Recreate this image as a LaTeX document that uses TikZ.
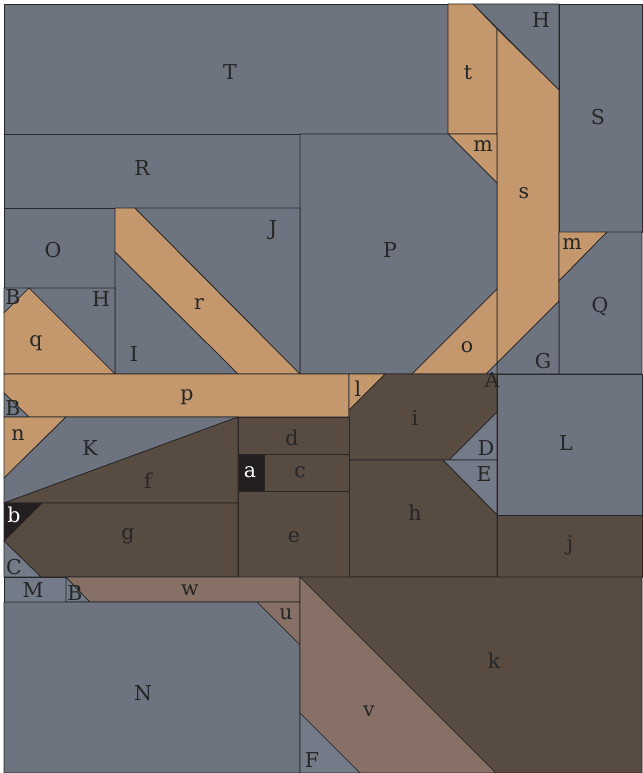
\documentclass[tikz,border=0pt]{standalone}
\usepackage{fontspec}
\setmainfont{DejaVu Serif}
\begin{document}
\begin{tikzpicture}[x=1pt,y=-1pt,
  piece/.style={draw=black!85,line width=0.7pt,line join=round},
  slate/.style={piece,fill=slateC},
  slatel/.style={piece,fill=slateL},
  tan/.style={piece,fill=tanC},
  dark/.style={piece,fill=darkC},
  mauve/.style={piece,fill=mauveC},
  blk/.style={piece,fill=blkC},
  lab/.style={font=\fontsize{20.5}{20.5}\selectfont,text=black!85,inner sep=0pt},
  wlab/.style={font=\fontsize{20.5}{20.5}\selectfont,text=white,inner sep=0pt}]
\definecolor{slateC}{HTML}{6D737F}
\definecolor{slateL}{HTML}{737A88}
\definecolor{tanC}{HTML}{C4986C}
\definecolor{darkC}{HTML}{584B42}
\definecolor{mauveC}{HTML}{877166}
\definecolor{blkC}{HTML}{231F20}
\useasboundingbox (0,0) rectangle (642,773);
\fill[white] (0,0) rectangle (642,773);
% top row
\path[slate] (4,4) rectangle (448,134);
\path[tan] (448,4) -- (473,4) -- (497,29) -- (497,134) -- (448,134) -- cycle;
\path[slate] (473,4) -- (559,4) -- (559,90) -- cycle;
\path[slate] (559,4) rectangle (642,232);
\path[tan] (497,29) -- (559,90) -- (559,301) -- (497,363) -- cycle;
\path[tan] (448,134) -- (497,134) -- (497,183) -- cycle;
\path[tan] (559,232) -- (607,232) -- (559,281) -- cycle;
\path[slate] (607,232) -- (642,232) -- (642,374) -- (559,374) -- (559,281) -- cycle;
\path[slate] (4,134) rectangle (300,208);
\path[slate] (300,134) -- (448,134) -- (497,183) -- (497,289) -- (412,374) -- (300,374) -- cycle;
\path[tan] (497,289) -- (497,363) -- (486,374) -- (412,374) -- cycle;
\path[slate] (559,301) -- (559,374) -- (497,374) -- (497,363) -- cycle;
\path[slatel] (497,363) -- (497,374) -- (486,374) -- cycle;
% left middle
\path[slate] (4,208) rectangle (115,288);
\path[tan] (115,208) -- (135,208) -- (300,374) -- (238,374) -- (115,252) -- cycle;
\path[slate] (135,208) -- (300,208) -- (300,374) -- cycle;
\path[slate] (115,252) -- (238,374) -- (115,374) -- cycle;
\path[slatel] (4,288) -- (29,288) -- (4,313) -- cycle;
\path[tan] (29,288) -- (115,374) -- (4,374) -- (4,313) -- cycle;
\path[slate] (29,288) -- (115,288) -- (115,374) -- cycle;
\path[tan] (4,374) -- (349,374) -- (349,417) -- (29,417) -- (4,393) -- cycle;
\path[slatel] (4,393) -- (29,417) -- (4,417) -- cycle;
\path[tan] (349,374) -- (385,374) -- (349,410) -- cycle;
\path[dark] (385,374) -- (497,374) -- (497,412) -- (449,460) -- (349,460) -- (349,410) -- cycle;
\path[slatel] (497,412) -- (497,460) -- (449,460) -- cycle;
\path[slatel] (443,460) -- (497,460) -- (497,515) -- cycle;
\path[dark] (349,460) -- (443,460) -- (497,515) -- (497,577) -- (349,577) -- cycle;
\path[slate] (497,374) rectangle (642,515);
\path[dark] (497,515) rectangle (642,577);
\path[tan] (4,417) -- (66,417) -- (4,478) -- cycle;
\path[slate] (66,417) -- (238,417) -- (4,503) -- (4,478) -- cycle;
\path[dark] (238,417) -- (238,503) -- (4,503) -- cycle;
\path[dark] (238,417) rectangle (349,454);
\path[blk] (238,454) rectangle (264,491);
\path[dark] (264,454) rectangle (349,491);
\path[dark] (238,491) rectangle (349,577);
\path[blk] (4,503) -- (42,503) -- (4,541) -- cycle;
\path[dark] (42,503) -- (238,503) -- (238,577) -- (41,577) -- (4,541) -- cycle;
\path[slatel] (4,541) -- (41,577) -- (4,577) -- cycle;
% bottom
\path[slatel] (4,577) rectangle (66,602);
\path[slatel] (66,577) -- (90,602) -- (66,602) -- cycle;
\path[mauve] (66,577) -- (300,577) -- (300,602) -- (90,602) -- cycle;
\path[mauve] (257,602) -- (300,602) -- (300,645) -- cycle;
\path[slate] (4,602) -- (257,602) -- (300,645) -- (300,773) -- (4,773) -- cycle;
\path[mauve] (300,577) -- (496,773) -- (360,773) -- (300,713) -- cycle;
\path[slatel] (300,713) -- (360,773) -- (300,773) -- cycle;
\path[dark] (300,577) -- (642,577) -- (642,773) -- (496,773) -- cycle;
% labels
\node[lab] (lT) at (230,72) {T};
\node[lab] (lR) at (142,168) {R};
\node[lab] (lO) at (53,250) {O};
\node[lab] (lJ) at (273,230) {J};
\node[lab] (lP) at (390,250) {P};
\node[lab] (lt) at (468,73) {t};
\node[lab] (lH1) at (541,20) {H};
\node[lab] (lS) at (598,117) {S};
\node[lab] (lm1) at (483,146) {m};
\node[lab] (ls) at (524,193) {s};
\node[lab] (lm2) at (572,244) {m};
\node[lab] (lQ) at (600,307) {Q};
\node[lab] (lB1) at (13,297) {B};
\node[lab] (lH2) at (101,299) {H};
\node[lab] (lq) at (36,343) {q};
\node[lab] (lr) at (199,304) {r};
\node[lab] (lI) at (134,354) {I};
\node[lab] (lo) at (467,347) {o};
\node[lab] (lG) at (543,361) {G};
\node[lab] (lA) at (492,380) {A};
\node[lab] (lp) at (187,397) {p};
\node[lab] (ll) at (358,389) {l};
\node[lab] (lB2) at (13,408) {B};
\node[lab] (ln) at (18,435) {n};
\node[lab] (lK) at (90,448) {K};
\node[lab] (li) at (415,418) {i};
\node[lab] (ld) at (292,438) {d};
\node[lab] (lD) at (486,448) {D};
\node[lab] (lL) at (566,443) {L};
\node[wlab] (la) at (250,472) {a};
\node[lab] (lc) at (300,472) {c};
\node[lab] (lE) at (484,474) {E};
\node[lab] (lf) at (148,481) {f};
\node[wlab] (lb) at (14,515) {b};
\node[lab] (lg) at (128,536) {g};
\node[lab] (le) at (294,537) {e};
\node[lab] (lh) at (415,513) {h};
\node[lab] (lj) at (570,545) {j};
\node[lab] (lC) at (14,567) {C};
\node[lab] (lM) at (33,590) {M};
\node[lab] (lB3) at (75,593) {B};
\node[lab] (lw) at (190,590) {w};
\node[lab] (lu) at (286,614) {u};
\node[lab] (lk) at (494,661) {k};
\node[lab] (lN) at (143,693) {N};
\node[lab] (lv) at (369,711) {v};
\node[lab] (lF) at (312,760) {F};
\end{tikzpicture}
\end{document}
